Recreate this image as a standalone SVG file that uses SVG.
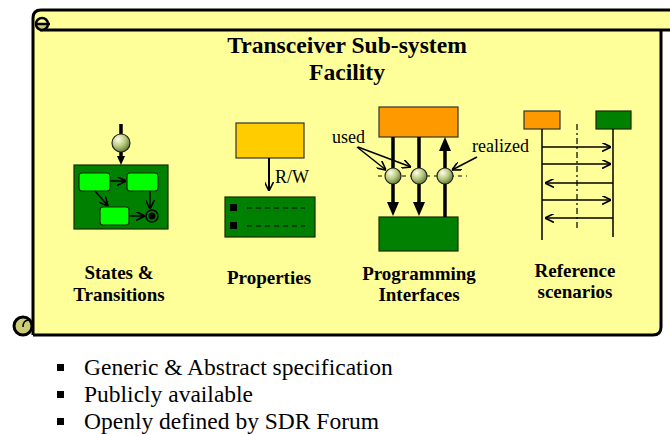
<svg xmlns="http://www.w3.org/2000/svg" width="670" height="434" viewBox="0 0 670 434" font-family="Liberation Serif, Times New Roman, serif">
<style>
text{font-family:'Liberation Serif','Times New Roman',serif}
.title{font-weight:bold;font-size:23.6px;text-anchor:middle;fill:#000}
.lbl{font-weight:bold;font-size:19px;text-anchor:middle;fill:#000}
.sm{font-size:18px;fill:#000}
.bul{font-size:23.5px;fill:#000}
.outline{fill:none;stroke:#000;stroke-width:3;stroke-linejoin:round}
.thin{fill:none;stroke:#000;stroke-width:1.5}
.thick{fill:none;stroke:#000;stroke-width:3.5}
.dk{fill:#008000;stroke:#1a2a00;stroke-width:1.2}
.lt{fill:#00FF00;stroke:#1a2a00;stroke-width:1.2}
.lolly{fill:url(#lg);stroke:#222;stroke-width:1.2}
</style>
<defs>
<radialGradient id="lg" cx="0.35" cy="0.3" r="0.8">
<stop offset="0" stop-color="#FFFFE6"/>
<stop offset="0.5" stop-color="#B8C880"/>
<stop offset="1" stop-color="#4E6A1E"/>
</radialGradient>
<marker id="open" viewBox="0 0 10 10" refX="10" refY="5" markerWidth="9" markerHeight="9" markerUnits="userSpaceOnUse" orient="auto">
<path d="M0,0 L10,5 L0,10" fill="none" stroke="#000" stroke-width="1.8"/>
</marker>
<marker id="solid" viewBox="0 0 14 12" refX="0" refY="6" markerWidth="14" markerHeight="12" markerUnits="userSpaceOnUse" orient="auto">
<path d="M0,0 L14,6 L0,12 Z" fill="#000"/>
</marker>
<marker id="solidS" viewBox="0 0 9 8" refX="0" refY="4" markerWidth="9" markerHeight="8" markerUnits="userSpaceOnUse" orient="auto">
<path d="M0,0 L9,4 L0,8 Z" fill="#000"/>
</marker>
</defs>

<g id="scroll">
<path d="M33,30 L661,30 L661,327 Q661,335 653,335 L33,335 Z" fill="#FFFF99"/>
<path d="M33,30 L33,18 Q33,10 41,10 L675,10 L675,30 Z" fill="#FFFF99"/>
<path class="outline" d="M33,335 L33,18 Q33,10 41,10 L675,10"/>
<path class="outline" d="M40,30 L675,30"/>
<path class="outline" d="M33,335 L653,335 Q661,335 661,327 L661,30"/>
<path d="M36,24 A6,6 0 0 0 48,24 Z" fill="#CCCC77"/>
<circle cx="42" cy="24" r="6" fill="none" stroke="#000" stroke-width="2.5"/>
<path d="M36,24 L50,24" stroke="#000" stroke-width="2.5"/>
<circle cx="23" cy="326" r="9" fill="#CCCC77" stroke="#000" stroke-width="3"/>
<path d="M23,327 Q23,320 29,320" fill="none" stroke="#000" stroke-width="1.5"/>
</g>

<g id="title">
<text class="title" x="347" y="53">Transceiver Sub-system</text>
<text class="title" x="347" y="80">Facility</text>
</g>

<g id="states">
<rect class="dk" x="74" y="165" width="94" height="64"/>
<rect class="lt" x="79" y="173" width="31" height="18" rx="3"/>
<rect class="lt" x="127" y="173" width="31" height="18" rx="3"/>
<rect class="lt" x="100" y="207" width="29" height="18" rx="3"/>
<circle cx="152" cy="216" r="6" fill="#008000" stroke="#000" stroke-width="1.5"/>
<circle cx="152" cy="216" r="3.5" fill="#000"/>
<line class="thick" x1="121" y1="124" x2="121" y2="134"/>
<circle class="lolly" cx="121" cy="143" r="9"/>
<line class="thick" x1="121" y1="152" x2="121" y2="156" marker-end="url(#solidS)"/>
<text class="lbl" x="119" y="279">States &amp;</text>
<text class="lbl" x="119" y="301">Transitions</text>
</g>

<g id="properties">
<rect x="236" y="123" width="68" height="35" fill="#FFCC00" stroke="#333" stroke-width="1.2"/>
<rect class="dk" x="225" y="197" width="90" height="40"/>
<rect x="230" y="204" width="7" height="7" fill="#000"/>
<rect x="230" y="222" width="7" height="7" fill="#000"/>
<path d="M247,208 L305,208 M247,226 L305,226" stroke="#000" stroke-width="1.2" stroke-dasharray="5,4"/>
<text class="sm" x="275" y="183">R/W</text>
<text class="lbl" x="269" y="284">Properties</text>
</g>

<g id="interfaces">
<rect x="379" y="107" width="79" height="30" fill="#FF9900" stroke="#333" stroke-width="1.2"/>
<rect class="dk" x="379" y="217" width="79" height="34"/>
<line x1="378" y1="176" x2="467" y2="176" stroke="#000" stroke-width="1" stroke-dasharray="4,4"/>
<circle class="lolly" cx="393" cy="176" r="8"/>
<circle class="lolly" cx="419" cy="176" r="8"/>
<circle class="lolly" cx="445" cy="176" r="8"/>
<text class="sm" x="332" y="143">used</text>
<text class="sm" x="472" y="152">realized</text>
<text class="lbl" x="419" y="280">Programming</text>
<text class="lbl" x="419" y="301">Interfaces</text>
</g>

<g id="scenarios">
<rect x="524" y="111" width="36" height="18" fill="#FF9900" stroke="#333" stroke-width="1.2"/>
<rect class="dk" x="596" y="111" width="35" height="18"/>
<line class="thin" x1="542" y1="129" x2="542" y2="240"/>
<line class="thin" x1="613" y1="129" x2="613" y2="237"/>
<line x1="577" y1="124" x2="577" y2="228" stroke="#000" stroke-width="1.2" stroke-dasharray="6,3,2,3"/>
<text class="lbl" x="575" y="277">Reference</text>
<text class="lbl" x="575" y="298">scenarios</text>
</g>

<g id="connectors">
<line class="thin" x1="110" y1="181" x2="126" y2="181" marker-end="url(#open)"/>
<line class="thin" x1="95" y1="191" x2="108" y2="206" marker-end="url(#open)"/>
<line class="thin" x1="150" y1="191" x2="150" y2="209" marker-end="url(#open)"/>
<line class="thin" x1="129" y1="216" x2="145" y2="216" marker-end="url(#open)"/>
<line x1="269" y1="158" x2="269" y2="191" stroke="#000" stroke-width="2" marker-end="url(#open)"/>
<line class="thick" x1="393" y1="137" x2="393" y2="168"/>
<line class="thick" x1="393" y1="184" x2="393" y2="202" marker-end="url(#solid)"/>
<line class="thick" x1="419" y1="137" x2="419" y2="168"/>
<line class="thick" x1="419" y1="184" x2="419" y2="202" marker-end="url(#solid)"/>
<line class="thick" x1="445" y1="217" x2="445" y2="184"/>
<line class="thick" x1="445" y1="168" x2="445" y2="151" marker-end="url(#solid)"/>
<line class="thin" x1="357" y1="147" x2="386" y2="170" marker-end="url(#open)"/>
<line class="thin" x1="358" y1="147" x2="411" y2="167" marker-end="url(#open)"/>
<line class="thin" x1="477" y1="157" x2="452" y2="170" marker-end="url(#open)"/>
<line class="thin" x1="542" y1="147" x2="611" y2="147" marker-end="url(#open)"/>
<line class="thin" x1="542" y1="164" x2="611" y2="164" marker-end="url(#open)"/>
<line class="thin" x1="613" y1="183" x2="545" y2="183" marker-end="url(#open)"/>
<line class="thin" x1="542" y1="200" x2="611" y2="200" marker-end="url(#open)"/>
<line class="thin" x1="613" y1="218" x2="545" y2="218" marker-end="url(#open)"/>
</g>

<g id="bullets">
<rect x="57" y="364" width="7" height="7" fill="#000"/>
<text class="bul" x="84" y="375">Generic &amp; Abstract specification</text>
<rect x="57" y="391" width="7" height="7" fill="#000"/>
<text class="bul" x="84" y="402">Publicly available</text>
<rect x="57" y="418" width="7" height="7" fill="#000"/>
<text class="bul" x="84" y="429">Openly defined by SDR Forum</text>
</g>
</svg>
